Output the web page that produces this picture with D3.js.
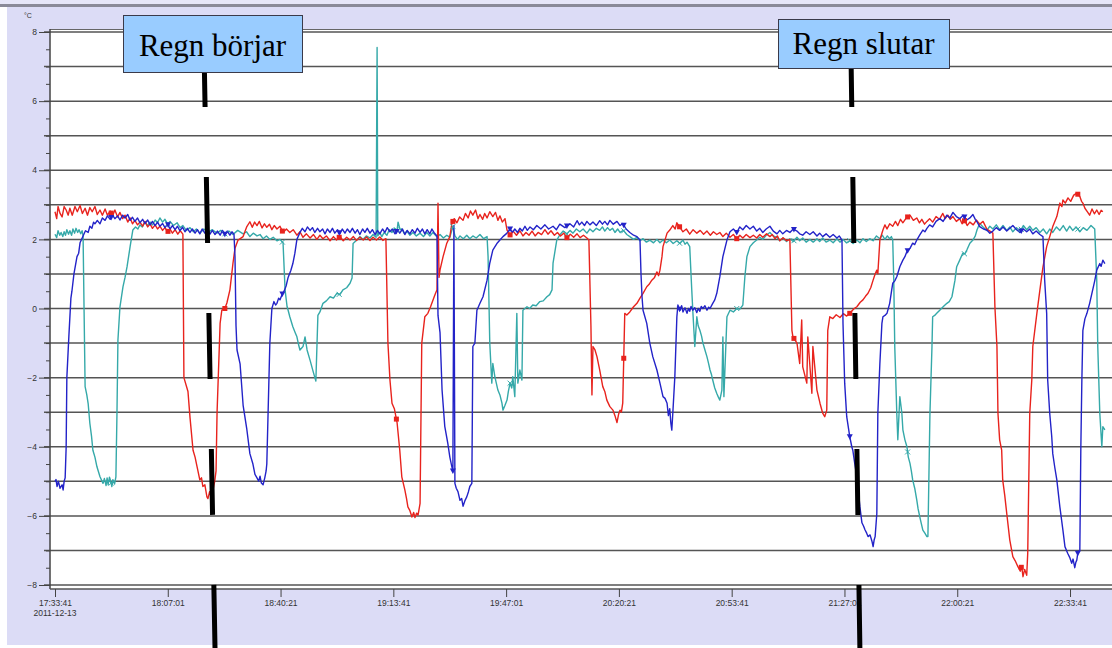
<!DOCTYPE html>
<html>
<head>
<meta charset="utf-8">
<title>Temperatur 2011-12-13</title>
<script src="https://cdnjs.cloudflare.com/ajax/libs/d3/7.8.5/d3.min.js"></script>
<style>
  body { margin: 0; background: #fff; }
  svg text { font-family: "Liberation Sans", Arial, sans-serif; }
</style>
</head>
<body>
<script>

// minutes after 17:33:41, temperature in degrees C
var red = [
[0,2.8],[0.5,2.6],[0.9,2.95],[1.5,2.75],[2.1,2.65],[2.7,2.95],[3.3,2.85],[3.9,2.7],[4.4,2.9],[5.1,2.7],[5.9,2.95],[6.6,2.8],[7.4,2.98],[8.1,2.75],[8.9,2.9],[9.6,2.7],[10.3,2.92],[11.0,2.8],[11.8,2.95],[12.5,2.72],[13.3,2.85],[14.0,2.7],[14.8,2.88],[15.5,2.7],[16.3,2.82],[17.0,2.68],[17.7,2.85],[18.5,2.65],[19.2,2.78],[20.0,2.6],[20.7,2.7],[21.5,2.5],[22.2,2.62],[22.9,2.45],[23.6,2.55],[24.4,2.42],[25.1,2.5],[25.9,2.38],[26.6,2.52],[27.4,2.36],[28.1,2.45],[28.8,2.32],[29.6,2.42],[30.3,2.3],[31.0,2.38],[31.8,2.26],[32.5,2.34],[33.3,2.22],[34.0,2.3],[34.7,2.18],[35.5,2.28],[36.3,2.15],[37.0,2.25],[37.8,2.15],
[38.1,-2.0],[39.0,-2.3],[39.3,-2.4],[39.9,-3.15],[40.8,-4.1],[41.4,-4.3],[42.0,-4.58],[42.8,-4.96],[43.3,-4.9],[43.7,-5.15],[44.3,-5.1],[44.9,-5.45],[45.2,-5.5],[45.7,-5.3],[46.1,-5.45],[46.7,-5.25],[47.2,-5.0],[47.6,-4.7],[47.9,-3.0],[48.8,-0.43],[49.3,-0.05],[50.2,0.0],[50.8,0.16],[51.7,0.54],[52.6,1.31],[53.2,1.74],[54.1,1.98],[55.6,2.08],[56.7,2.37],[57.6,2.51],
[58.3,2.35],[59.0,2.5],[59.7,2.4],[60.4,2.52],[61.2,2.33],[61.9,2.45],[62.6,2.35],[63.4,2.44],[64.1,2.28],[64.8,2.4],[65.6,2.3],[66.5,2.38],[67.4,2.2],[68.4,2.3],[69.4,2.2],[70.4,2.28],[71.5,2.12],[72.4,2.22],[73.3,2.06],[74.3,2.16],[75.4,2.04],[76.4,2.14],[77.4,2.0],[78.3,2.12],[79.2,2.02],[80.2,2.1],[81.3,1.96],[82.3,2.08],[83.2,1.98],[84.2,2.08],[85.2,1.96],[86.2,2.06],[87.2,1.98],[88.2,2.08],[89.1,1.97],[90.1,2.06],[91.1,1.98],[92.1,2.07],[93.1,1.97],[94.0,2.06],[95.0,1.98],[96.0,2.07],[96.9,1.97],[97.8,2.02],
[98.4,-1.0],[99.0,-2.07],[99.6,-2.74],[100.3,-2.9],[101.1,-3.3],[101.9,-4.1],[102.5,-4.87],[103.4,-5.25],[103.9,-5.5],[104.3,-5.74],[104.9,-5.85],[105.5,-6.03],[106.0,-5.9],[106.4,-6.05],[106.9,-5.92],[107.3,-5.98],[107.9,-5.64],[108.4,-1.0],[109.3,-0.24],[110.2,-0.14],[111.0,0.05],[111.7,0.24],[112.3,0.4],[112.9,0.54],[113.2,3.05],[113.5,0.9],[113.8,1.12],[114.7,1.5],[115.8,1.89],[116.7,2.08],[117.3,2.46],
[118.0,2.6],[118.8,2.48],[119.6,2.65],[120.6,2.55],[121.3,2.75],[122.1,2.62],[122.8,2.82],[123.5,2.7],[124.3,2.85],[125.0,2.6],[125.6,2.72],[126.4,2.58],[127.0,2.75],[127.7,2.62],[128.5,2.8],[129.4,2.66],[130.2,2.78],[130.9,2.55],[131.5,2.68],[132.2,2.5],[133.0,2.6],[133.6,2.27],[134.5,2.13],[135.4,2.24],[136.4,2.12],[137.4,2.25],[138.3,2.1],[139.2,2.2],[140.1,2.12],[141.0,2.24],[141.9,2.1],[142.8,2.2],[143.8,2.14],[144.8,2.28],[145.7,2.15],[146.6,2.25],[147.6,2.12],[148.5,2.2],[149.4,2.1],[150.4,2.18],[151.3,2.05],[152.3,2.15],[153.3,2.06],[154.3,2.16],[155.2,2.05],[156.2,2.12],[157.2,2.04],[157.8,1.98],
[158.4,-0.5],[158.7,-2.5],[159.0,-1.1],[159.6,-1.2],[160.2,-1.4],[161.0,-1.78],[161.9,-2.26],[162.5,-2.4],[163.1,-2.65],[164.0,-2.84],[164.9,-2.94],[165.5,-3.1],[166.1,-3.3],[166.6,-3.05],[167.0,-2.94],[167.4,-3.0],[167.8,-2.74],[168.4,-0.14],[169.0,-0.19],[169.9,-0.1],[171.0,0.05],[172.0,0.15],[172.9,0.3],[173.8,0.44],[174.9,0.63],[175.6,0.7],[176.4,0.82],[177.2,0.9],[177.9,1.06],[178.4,0.95],[178.8,1.11],[179.4,1.5],[179.7,1.79],[180.9,2.18],[181.7,2.27],
[182.6,2.4],[183.3,2.3],[183.8,2.48],[184.7,2.35],[185.6,2.22],[186.6,2.3],[187.6,2.15],[188.6,2.28],[189.7,2.18],[190.7,2.26],[191.7,2.15],[192.7,2.24],[193.7,2.12],[194.6,2.22],[195.6,2.14],[196.5,2.2],[197.4,2.08],[198.4,2.18],[199.5,2.06],[200.5,2.14],[201.5,2.02],[202.4,2.12],[203.3,2.04],[204.3,2.14],[205.4,2.05],[206.4,2.12],[207.4,2.04],[208.3,2.14],[209.2,2.06],[210.3,2.16],[211.3,2.08],[212.0,2.14],[212.8,2.02],[213.5,2.1],[214.2,1.96],[215.2,2.05],[216.2,1.96],[217.2,2.0],
[217.8,-0.63],[218.1,-0.82],[219.3,-1.0],[220.1,-1.59],[220.7,-0.33],[221.0,-1.69],[222.2,-2.16],[222.5,-0.82],[223.7,-2.45],[224.0,-1.1],[225.2,-2.36],[226.1,-2.74],[226.9,-3.03],[227.5,-3.13],[228.1,-2.94],[228.4,-0.63],[229.0,-0.24],[229.9,-0.29],[230.9,-0.18],[232.0,-0.26],[233.0,-0.15],[234.0,-0.22],[234.9,-0.14],[236.0,-0.02],[237.0,0.05],[238.0,0.18],[238.8,0.25],[239.6,0.36],[240.3,0.44],[241.1,0.6],[241.8,0.82],[242.4,1.0],[242.9,1.11],[243.2,1.01],[243.8,1.98],
[244.7,2.27],[245.3,2.42],[245.9,2.3],[246.7,2.45],[247.6,2.38],[248.4,2.52],[249.1,2.4],[249.9,2.58],[250.6,2.48],[251.6,2.62],[252.7,2.7],[253.7,2.55],[254.7,2.62],[255.5,2.48],[256.2,2.58],[257.0,2.44],[257.7,2.52],[258.5,2.6],[259.4,2.5],[260.4,2.66],[261.4,2.58],[262.4,2.75],[263.1,2.6],[263.9,2.7],[264.6,2.58],[265.4,2.66],[266.4,2.52],[267.4,2.6],[268.1,2.45],[268.9,2.55],[269.6,2.4],[270.4,2.5],[271.4,2.42],[272.3,2.56],[273.3,2.44],[274.3,2.52],[275.4,2.3],[276.3,2.24],[277.2,2.18],
[277.8,0.05],[278.4,-1.1],[278.7,-3.03],[279.2,-3.8],[279.8,-4.1],[280.1,-4.96],[280.7,-5.4],[281.3,-5.93],[282.2,-6.7],[283.1,-7.18],[283.8,-7.3],[284.6,-7.47],[285.3,-7.6],[285.7,-7.45],[286.1,-7.76],[286.6,-7.55],[287.2,-7.72],[287.5,-7.08],[288.1,-3.03],[288.7,-2.07],[289.0,-1.1],[290.2,-0.14],[291.1,0.54],[292.0,1.2],[293.1,1.79],[294.0,2.08],[294.9,2.37],[296.1,2.66],[297.0,3.05],
[297.6,2.95],[297.9,3.14],[298.6,3.05],[299.4,3.2],[300.2,3.1],[301.1,3.28],[302.0,3.34],[302.9,3.24],[303.4,3.1],[303.8,3.05],[304.4,2.9],[305.1,2.8],[305.8,2.7],[306.5,2.88],[307.2,2.74],[307.9,2.85],[308.6,2.72],[309.2,2.84],[309.7,2.8]
];

var blue = [
[0,-5.0],[0.3,-4.95],[0.6,-5.15],[1.0,-5.0],[1.5,-5.2],[2.1,-5.1],[2.4,-5.25],[2.7,-5.0],[3.0,-4.9],[3.3,-4.0],[3.5,-2.0],[4.1,-0.8],[4.7,0.3],[5.0,0.5],[5.6,1.0],[6.5,1.5],[7.0,1.6],[7.4,1.9],[8.3,2.1],[9.0,2.25],[9.8,2.2],[10.3,2.38],[10.9,2.32],[11.4,2.5],[11.8,2.45],
[12.5,2.55],[13.3,2.45],[14.0,2.62],[14.8,2.55],[15.5,2.68],[16.3,2.58],[17.0,2.7],[17.7,2.6],[18.5,2.68],[19.2,2.56],[20.0,2.7],[20.7,2.62],[21.5,2.72],[22.2,2.55],[22.9,2.64],[23.6,2.52],[24.4,2.62],[25.1,2.48],[25.9,2.58],[26.6,2.46],[27.4,2.56],[28.1,2.42],[28.8,2.52],[29.6,2.4],[30.3,2.5],[31.0,2.38],[31.8,2.46],[32.5,2.34],[33.3,2.44],[34.0,2.3],[34.7,2.4],[35.5,2.28],[36.2,2.38],[36.9,2.25],[37.7,2.35],[38.4,2.22],[39.1,2.32],[39.9,2.2],[40.6,2.3],[41.4,2.18],[42.1,2.28],[42.8,2.16],[43.5,2.3],[44.3,2.18],[45.0,2.28],[45.8,2.15],[46.5,2.26],[47.3,2.14],[48.0,2.24],[48.8,2.12],[49.5,2.26],[50.2,2.15],[50.9,2.24],[51.7,2.12],[52.3,2.22],[52.9,2.15],
[53.2,1.5],[53.5,-0.5],[53.8,-1.2],[54.7,-1.6],[55.6,-2.8],[56.7,-3.5],[57.6,-4.2],[58.5,-4.5],[59.1,-4.8],[59.7,-4.9],[60.2,-5.0],[60.6,-4.85],[61.0,-5.05],[61.5,-5.1],[62.0,-4.9],[62.4,-4.7],[62.6,-4.5],[63.5,-1.0],[64.1,0.0],[64.7,0.2],[65.2,0.1],[65.6,0.15],[66.1,0.3],[66.5,0.25],[67.1,0.4],[67.7,0.5],[68.3,0.65],[68.9,0.9],[69.7,1.1],[70.3,1.3],[70.9,1.6],[71.5,2.0],[72.4,2.2],
[73.1,2.32],[73.9,2.22],[74.6,2.36],[75.4,2.26],[76.1,2.34],[76.8,2.2],[77.6,2.32],[78.3,2.22],[79.1,2.3],[79.8,2.16],[80.5,2.3],[81.3,2.2],[82.0,2.32],[82.7,2.18],[83.5,2.28],[84.2,2.16],[84.9,2.3],[85.7,2.18],[86.4,2.3],[87.2,2.2],[87.9,2.32],[88.7,2.18],[89.4,2.28],[90.1,2.14],[90.9,2.3],[91.6,2.2],[92.3,2.32],[93.1,2.18],[93.8,2.28],[94.6,2.14],[95.3,2.26],[96.0,2.16],[96.8,2.3],[97.5,2.2],[98.2,2.34],[99.0,2.22],[99.7,2.3],[100.5,2.16],[101.2,2.28],[101.9,2.18],[102.7,2.3],[103.4,2.14],[104.1,2.26],[104.9,2.16],[105.6,2.28],[106.4,2.18],[107.1,2.32],[107.9,2.2],[108.6,2.3],[109.3,2.16],[110.0,2.28],[110.8,2.16],[111.4,2.3],[112.0,2.2],[112.9,2.1],
[113.2,-0.2],[113.8,-0.7],[114.4,-2.36],[115.2,-3.41],[116.1,-3.9],[116.7,-4.3],[117.3,-4.58],[117.6,-4.7],[117.9,2.4],[118.2,-5.06],[118.6,-5.2],[119.1,-5.3],[119.7,-5.55],[120.2,-5.5],[120.6,-5.72],[121.2,-5.55],[121.7,-5.45],[122.2,-5.3],[122.6,-5.15],[123.2,-5.06],[123.5,-1.1],[124.1,-1.0],[124.7,-0.05],[125.6,0.15],[126.5,0.34],[127.7,0.82],[128.5,1.31],[129.4,1.69],[130.6,1.88],[131.5,1.98],[132.4,2.08],[133.6,2.18],[134.5,2.3],
[135.2,2.2],[135.9,2.3],[136.7,2.2],[137.4,2.32],[138.1,2.24],[138.9,2.38],[139.6,2.26],[140.4,2.36],[141.4,2.28],[142.4,2.4],[143.6,2.3],[144.8,2.42],[145.9,2.3],[147.2,2.38],[148.2,2.28],[149.2,2.44],[150.7,2.34],[152.2,2.45],[153.3,2.36],[154.3,2.54],[155.0,2.42],[155.7,2.5],[156.5,2.4],[157.2,2.52],[158.1,2.42],[159.0,2.5],[160.0,2.4],[161.0,2.54],[161.8,2.44],[162.5,2.52],[163.3,2.42],[164.0,2.55],[165.0,2.44],[166.1,2.52],[167.0,2.4],[167.8,2.46],[168.8,2.3],[169.9,2.2],[171.0,2.12],[172.0,2.08],[172.9,1.98],
[173.2,1.0],[173.5,0.34],[173.8,-0.05],[174.9,-0.43],[175.8,-1.0],[176.7,-1.4],[177.9,-1.78],[178.8,-2.16],[179.7,-2.55],[180.3,-2.6],[180.9,-2.74],[181.3,-3.1],[181.7,-2.9],[182.0,-3.3],[182.3,-3.52],[182.6,-3.03],[183.2,-1.97],[183.8,-0.24],[184.1,0.1],[184.7,-0.05],[185.2,0.08],[185.6,-0.1],[186.2,0.02],[186.8,-0.14],[187.2,0.0],[187.6,-0.08],[188.0,0.06],[188.5,-0.05],[189.1,0.02],[189.7,-0.12],[190.1,0.0],[190.6,-0.08],[191.0,0.06],[191.5,0.0],[192.1,0.08],[192.7,-0.05],[193.2,0.04],[193.6,0.0],[194.4,0.15],[195.0,0.25],[195.6,0.44],[196.5,0.92],[197.4,1.5],[198.6,1.98],[199.5,2.22],
[200.5,2.3],[201.5,2.2],[202.4,2.36],[203.3,2.28],[204.3,2.4],[205.4,2.3],[206.4,2.38],[207.4,2.24],[208.3,2.32],[209.2,2.2],[210.2,2.3],[211.3,2.38],[212.3,2.24],[213.4,2.16],[214.2,2.26],[215.1,2.16],[216.2,2.26],[217.2,2.2],[218.2,2.3],[219.3,2.24],[220.1,2.16],[221.0,2.12],[222.0,2.22],[223.1,2.14],[224.1,2.22],[225.2,2.1],[226.0,2.18],[226.9,2.08],[227.9,2.16],[229.0,2.06],[230.0,2.14],[231.1,2.04],[231.8,2.1],[232.6,1.98],
[232.9,-0.43],[233.4,-2.16],[234.0,-3.13],[234.9,-3.71],[235.5,-4.0],[235.8,-4.1],[236.4,-4.5],[237.0,-4.87],[237.9,-5.74],[238.5,-6.2],[239.0,-6.3],[239.4,-6.4],[239.9,-6.5],[240.3,-6.6],[240.9,-6.55],[241.5,-6.75],[241.8,-6.89],[242.1,-6.7],[242.4,-6.6],[242.9,-5.93],[243.2,-3.03],[243.8,-1.59],[244.4,-0.43],[244.7,-0.24],[245.3,-0.2],[245.9,-0.14],[246.7,0.15],[247.3,0.54],[247.6,0.73],[248.2,0.8],[248.8,0.92],[249.7,1.21],[250.6,1.4],[251.2,1.5],[251.8,1.65],[252.7,1.74],[253.5,1.89],[254.1,1.85],[254.7,1.98],[255.6,2.13],[256.5,2.27],[257.1,2.22],[257.7,2.32],
[258.5,2.42],[259.4,2.36],[260.4,2.52],[261.5,2.6],[262.5,2.52],[263.6,2.7],[264.5,2.62],[265.4,2.78],[266.4,2.66],[267.4,2.6],[268.4,2.7],[269.5,2.56],[270.4,2.62],[271.3,2.72],[272.0,2.58],[272.5,2.51],[273.3,2.37],[274.4,2.3],[275.4,2.27],[276.3,2.18],[277.2,2.24],[278.2,2.34],[279.2,2.26],[280.2,2.36],[281.3,2.24],[282.2,2.32],[283.1,2.4],[284.2,2.28],[285.2,2.2],[286.2,2.3],[287.2,2.22],[288.1,2.3],[289.0,2.16],[290.0,2.24],[291.1,2.14],[292.0,2.08],
[292.5,0.83],[293.1,-0.14],[293.4,-2.07],[294.0,-3.03],[294.6,-3.71],[294.9,-4.2],[295.5,-4.6],[296.1,-4.96],[297.0,-5.74],[297.9,-6.41],[298.5,-6.89],[299.3,-7.08],[299.9,-7.2],[300.5,-7.37],[300.9,-7.25],[301.4,-7.5],[301.7,-7.35],[302.0,-7.28],[302.3,-7.08],[302.9,-6.99],[303.2,-4.0],[303.5,-2.07],[303.8,-0.63],[304.4,-0.3],[305.0,-0.14],[305.8,0.15],[306.7,0.54],[307.3,0.8],[307.9,1.11],[308.8,1.3],[309.2,1.22],[309.7,1.4],[310.3,1.3]
];

var cyan = [
[0,2.15],[0.5,2.05],[0.9,2.25],[1.4,2.12],[1.8,2.2],[2.3,2.08],[2.7,2.22],[3.1,2.12],[3.5,2.28],[4.0,2.15],[4.4,2.25],[4.9,2.12],[5.3,2.3],[5.8,2.18],[6.2,2.32],[6.7,2.2],[7.1,2.28],[7.6,2.16],[8.0,2.25],[8.3,2.1],
[8.6,-0.1],[8.9,-2.26],[9.4,-2.5],[9.8,-2.75],[10.3,-3.32],[10.8,-3.7],[11.2,-4.1],[11.8,-4.3],[12.4,-4.58],[13.3,-4.87],[14.2,-5.06],[14.6,-4.92],[15.1,-5.12],[15.4,-4.9],[15.7,-5.1],[16.1,-4.88],[16.5,-5.0],[16.8,-5.15],[17.1,-4.95],[17.6,-5.08],[18.0,-4.87],[18.3,-3.13],[18.6,-0.91],[19.2,0.05],[20.1,0.63],[20.7,0.9],[21.3,1.21],[22.2,1.79],[23.0,2.27],
[23.8,2.36],[24.5,2.3],[25.1,2.42],[25.8,2.36],[26.6,2.5],[27.3,2.4],[28.1,2.5],[28.8,2.42],[29.6,2.56],[30.3,2.48],[31.0,2.62],[31.8,2.5],[32.5,2.58],[33.3,2.44],[34.0,2.52],[35.0,2.4],[36.1,2.48],[37.0,2.34],[37.8,2.4],[38.8,2.26],[39.9,2.34],[40.9,2.22],[41.8,2.3],[42.8,2.18],[44.0,2.3],[45.2,2.2],[46.5,2.28],[47.9,2.18],[49.0,2.26],[50.2,2.16],[51.4,2.24],[52.6,2.14],[54.0,2.26],[55.6,2.16],[56.6,2.22],[57.6,2.08],[58.6,2.18],[59.7,2.1],[60.6,2.14],[61.5,2.02],[62.5,2.1],[63.5,2.0],[64.5,2.06],[65.6,1.96],[66.5,2.0],[67.4,1.9],
[68.0,0.54],[68.6,0.05],[68.9,-0.05],[69.4,-0.24],[70.3,-0.53],[71.0,-0.7],[71.5,-0.82],[72.0,-1.05],[72.4,-1.2],[73.3,-1.1],[73.9,-0.82],[74.5,-1.2],[75.4,-1.5],[76.2,-1.79],[77.1,-2.1],[77.7,-0.2],[78.3,-0.1],[79.2,0.15],[80.2,0.22],[81.3,0.34],[82.3,0.3],[83.3,0.44],[84.2,0.4],[85.1,0.54],[86.2,0.6],[87.2,0.73],[87.8,0.88],[88.1,1.88],[89.2,1.98],
[90.1,2.08],[91.0,2.0],[92.0,2.1],[93.1,2.04],[94.0,2.14],[94.9,2.06],[95.2,7.55],[95.4,2.1],[96.0,2.2],[96.6,2.08],[97.3,2.2],[98.1,2.12],[98.8,2.28],[99.6,2.2],[100.3,2.32],[101.1,2.26],[101.4,2.5],[102.0,2.28],[102.5,2.3],[103.3,2.16],[104.0,2.24],[104.9,2.12],[105.8,2.2],[106.8,2.1],[107.9,2.18],[108.9,2.08],[109.9,2.2],[110.8,2.1],[111.7,2.2],[112.8,2.08],[113.8,2.14],[114.8,2.04],[115.8,2.12],[116.7,2.06],[117.6,2.37],[118.2,2.1],[119.0,2.0],[119.7,2.1],[120.7,2.02],[121.7,2.12],[122.6,2.02],[123.5,2.1],[124.5,2.04],[125.6,2.14],[126.7,2.02],[127.7,2.08],
[128.0,1.5],[128.5,-1.0],[129.1,-2.16],[129.4,-1.59],[130.0,-1.97],[130.9,-2.36],[131.5,-2.5],[132.1,-2.74],[132.4,-2.94],[133.0,-2.8],[133.6,-2.65],[134.0,-2.4],[134.5,-2.16],[135.0,-2.3],[135.3,-1.97],[135.9,-2.55],[136.5,-0.14],[136.8,-2.16],[137.4,-1.78],[138.0,-2.07],[138.3,-0.05],[139.5,0.05],[140.3,0.0],[141.2,0.1],[142.2,0.08],[143.3,0.2],[144.3,0.22],[145.4,0.34],[146.2,0.4],[146.9,0.54],[147.2,1.31],[148.3,1.98],[149.2,2.13],
[150.2,2.24],[151.3,2.16],[152.2,2.26],[153.1,2.18],[154.1,2.3],[155.1,2.22],[156.1,2.3],[157.2,2.18],[158.1,2.3],[159.0,2.22],[160.0,2.32],[161.0,2.26],[161.8,2.36],[162.5,2.24],[163.3,2.34],[164.0,2.26],[164.8,2.32],[165.5,2.2],[166.3,2.3],[167.0,2.2],[168.0,2.26],[169.0,2.14],[169.9,2.08],[171.0,2.0],[172.0,2.06],[172.9,1.96],[173.8,2.02],[174.8,1.92],[175.8,1.98],[176.9,1.9],[177.9,2.0],[178.8,1.9],[179.7,1.98],[180.7,1.9],[181.7,1.98],[182.7,1.88],[183.8,1.96],[184.7,1.88],[185.6,1.98],[186.2,1.86],[186.8,1.92],[187.6,1.79],
[188.2,0.54],[188.5,-0.05],[189.1,-1.1],[189.7,-0.24],[190.1,-0.5],[190.6,-0.63],[191.1,-0.8],[191.5,-1.0],[192.1,-1.2],[192.7,-1.4],[193.2,-1.6],[193.6,-1.78],[194.0,-1.9],[194.4,-2.07],[195.0,-2.3],[195.6,-2.46],[196.0,-2.55],[196.5,-2.65],[197.1,-2.36],[197.4,-0.82],[197.7,-2.55],[198.6,-0.24],[199.5,-0.05],[200.5,-0.1],[201.5,0.0],[202.4,-0.02],[203.3,0.1],[203.9,0.92],[204.5,1.5],[205.4,1.79],[206.4,1.9],[207.4,1.98],[208.3,2.06],
[209.2,2.0],[210.2,2.12],[211.3,2.2],[212.3,2.1],[213.4,2.06],[214.2,1.96],[215.1,2.04],[216.2,1.94],[217.2,2.02],[218.2,1.94],[219.3,2.06],[220.1,1.96],[221.0,2.04],[222.0,1.92],[223.1,2.0],[224.1,1.92],[225.2,2.02],[226.0,1.94],[226.9,2.04],[227.9,1.92],[229.0,1.98],[230.0,1.9],[231.1,2.02],[232.0,1.92],[232.9,2.0],[233.9,1.9],[234.9,1.96],[235.9,1.88],[237.0,1.98],[237.9,1.9],[238.8,2.02],[239.8,1.94],[240.8,2.02],[241.8,1.96],[242.8,2.1],[243.8,2.02],[244.5,2.12],[245.3,2.0],[246.0,2.1],[246.7,2.02],[247.2,2.08],[247.6,1.98],
[247.9,0.83],[248.2,-1.1],[248.8,-3.03],[249.1,-3.8],[249.7,-2.55],[250.3,-3.03],[250.6,-3.51],[251.2,-3.8],[251.8,-4.0],[252.2,-4.3],[252.7,-4.48],[253.1,-4.7],[253.5,-4.96],[254.1,-5.2],[254.7,-5.54],[255.1,-5.8],[255.6,-6.03],[256.0,-6.2],[256.5,-6.41],[257.1,-6.5],[257.7,-6.6],[258.0,-6.6],[258.6,-3.03],[259.2,-1.1],[259.4,-0.24],[260.0,-0.2],[260.6,-0.14],[261.5,-0.05],[262.5,0.05],[263.6,0.15],[264.3,0.2],[265.1,0.34],[266.0,0.82],[266.5,1.21],[267.4,1.4],[268.3,1.6],[268.9,1.58],[269.5,1.69],[270.4,1.89],[271.3,1.98],[272.0,2.1],[272.5,2.27],[273.3,2.46],
[274.3,2.36],[275.4,2.26],[276.3,2.38],[277.2,2.3],[278.2,2.42],[279.2,2.28],[280.2,2.4],[281.3,2.26],[282.2,2.36],[283.1,2.22],[284.2,2.34],[285.2,2.22],[286.2,2.4],[287.2,2.28],[288.1,2.38],[289.0,2.26],[290.0,2.34],[291.1,2.2],[292.1,2.3],[293.1,2.16],[294.0,2.3],[294.9,2.2],[296.0,2.36],[297.0,2.26],[298.0,2.4],[299.0,2.24],[299.9,2.38],[300.8,2.26],[301.8,2.36],[302.9,2.22],[303.9,2.34],[305.0,2.26],[306.2,2.4],[307.3,2.3],
[307.9,0.83],[308.2,-1.1],[308.8,-3.03],[309.4,-4.0],[309.7,-3.42],[310.3,-3.51]
];

// sample markers drawn by the logger (minutes)
var markerMin = [16.6, 33.4, 50.2, 67.2, 84.0, 100.9, 117.6, 134.5, 151.3, 168.1, 184.6, 201.5, 218.4, 234.9, 252.0, 268.8, 285.6, 302.3];

// x ticks every 2000 s from the start
var xTickSec = [0, 2000, 4000, 6000, 8000, 10000, 12000, 14000, 16000, 18000];
var yLabels = [8, 6, 4, 2, 0, -2, -4, -6, -8];
var yGrid = [8, 7, 6, 5, 4, 3, 2, 1, 0, -1, -2, -3, -4, -5, -6, -7, -8];
var yMinor = [7.5, 6.5, 5.5, 4.5, 3.5, 2.5, 1.5, 0.5, -0.5, -1.5, -2.5, -3.5, -4.5, -5.5, -6.5, -7.5,
              7, 5, 3, 1, -1, -3, -5, -7];

// rain annotations: minutes at top and bottom of the slanted bar
var rainStart = [44.0, 47.3];
var rainEnd = [235.2, 237.9];

var width = 1112, height = 648;
var t0 = new Date(2011, 11, 13, 17, 33, 41);
function tm(m) { return new Date(t0.getTime() + m * 60000); }

var x = d3.scaleTime().domain([t0, tm(333.3333)]).range([55, 1182.8]);
var y = d3.scaleLinear().domain([-8, 8]).range([585, 32]);

var svg = d3.select("body").append("svg")
    .attr("width", width)
    .attr("height", height);

// background frame
svg.append("rect").attr("x", 0).attr("y", 0).attr("width", width).attr("height", height).attr("fill", "#fff");
svg.append("rect").attr("x", 7).attr("y", 0).attr("width", width - 7).attr("height", 645).attr("fill", "#dcdcf6");
svg.append("rect").attr("x", 0).attr("y", 0).attr("width", width).attr("height", 4).attr("fill", "#e6e6f8");
svg.append("rect").attr("x", 0).attr("y", 4).attr("width", width).attr("height", 3).attr("fill", "#8a8a98");
svg.append("rect").attr("x", 50).attr("y", 29).attr("width", width - 50).attr("height", 560).attr("fill", "#fff");

// horizontal grid
svg.append("g").selectAll("line")
  .data(yGrid)
  .enter().append("line")
    .attr("x1", 44).attr("x2", width)
    .attr("y1", function(d) { return y(d); })
    .attr("y2", function(d) { return y(d); })
    .attr("stroke", "#555")
    .attr("stroke-width", 1.5);

// frame top
svg.append("line").attr("x1", 50).attr("x2", width).attr("y1", 29.5).attr("y2", 29.5)
  .attr("stroke", "#666").attr("stroke-width", 1.2);

// y axis
var yAxis = svg.append("g")
    .attr("transform", "translate(50,0)")
    .call(d3.axisLeft(y).tickValues(yLabels).tickSize(11).tickSizeOuter(0).tickFormat(d3.format("d")));
var yMinorAxis = svg.append("g")
    .attr("transform", "translate(50,0)")
    .call(d3.axisLeft(y).tickValues(yMinor).tickSize(4).tickSizeOuter(0).tickFormat(""));
[yAxis, yMinorAxis].forEach(function(g) {
  g.select(".domain").attr("stroke", "#444").attr("d", "M0,29V589");
  g.selectAll(".tick line").attr("stroke", "#444");
});
yAxis.selectAll("text").attr("x", -13).style("font-size", "8.5px")
  .style("font-family", "Liberation Sans, Arial, sans-serif").style("fill", "#333");

svg.append("text").attr("x", 24).attr("y", 18).style("font-size", "7px").style("fill", "#333").text("°C");

// x axis
var xAxis = svg.append("g")
    .attr("transform", "translate(0,589)")
    .call(d3.axisBottom(x)
      .tickValues(xTickSec.map(function(s) { return new Date(t0.getTime() + s * 1000); }))
      .tickSize(8).tickSizeOuter(0)
      .tickFormat(d3.timeFormat("%H:%M:%S")));
xAxis.select(".domain").attr("stroke", "#555").attr("stroke-width", 1.5).attr("d", "M50,0H" + width);
xAxis.selectAll(".tick line").attr("stroke", "#444");
xAxis.selectAll("text").attr("y", 11).style("font-size", "8.5px")
  .style("font-family", "Liberation Sans, Arial, sans-serif").style("fill", "#333");
xAxis.append("text")
  .attr("x", x(t0)).attr("y", 27)
  .attr("text-anchor", "middle")
  .style("font-size", "8.5px")
  .style("fill", "#333")
  .text(d3.timeFormat("%Y-%m-%d")(t0));

// series
var line = d3.line()
  .x(function(d) { return x(tm(d[0])); })
  .y(function(d) { return y(d[1]); });

var plot = svg.append("g");
var series = [
  { data: cyan, color: "#35a9a9" },
  { data: red,  color: "#e8231d" },
  { data: blue, color: "#2323c8" }
];
series.forEach(function(s) {
  plot.append("path")
    .datum(s.data)
    .attr("fill", "none")
    .attr("stroke", s.color)
    .attr("stroke-width", 1.4)
    .attr("stroke-linejoin", "round")
    .attr("d", line);
});

// marker value on the line at a given minute
var bis = d3.bisector(function(d) { return d[0]; }).left;
function valueAt(data, m) {
  var i = bis(data, m);
  if (i <= 0) return data[0][1];
  if (i >= data.length) return data[data.length - 1][1];
  var a = data[i - 1], b = data[i];
  return a[1] + (b[1] - a[1]) * (m - a[0]) / (b[0] - a[0]);
}
markerMin.forEach(function(m) {
  var px = x(tm(m));
  var ry = y(valueAt(red, m)), by = y(valueAt(blue, m)), cy = y(valueAt(cyan, m));
  plot.append("path")
    .attr("d", "M" + (px - 2.5) + "," + (cy - 2.5) + "L" + (px + 2.5) + "," + (cy + 2.5) + "M" + (px + 2.5) + "," + (cy - 2.5) + "L" + (px - 2.5) + "," + (cy + 2.5))
    .attr("stroke", "#35a9a9").attr("stroke-width", 1);
  plot.append("rect")
    .attr("x", px - 2.5).attr("y", ry - 2.5).attr("width", 5).attr("height", 5)
    .attr("fill", "#e8231d");
  plot.append("path")
    .attr("d", "M" + (px - 3) + "," + (by - 2.5) + "L" + (px + 3) + "," + (by - 2.5) + "L" + px + "," + (by + 3) + "Z")
    .attr("fill", "#2323c8");
});

// rain bars
[rainStart, rainEnd].forEach(function(r) {
  svg.append("line")
    .attr("x1", x(tm(r[0]))).attr("y1", 41)
    .attr("x2", x(tm(r[1]))).attr("y2", 650)
    .attr("stroke", "#000")
    .attr("stroke-width", 5)
    .attr("stroke-dasharray", "66 70");
});

// label boxes
var boxes = [
  { text: "Regn börjar", x0: 123, x1: 302, y0: 15, y1: 72, base: 56 },
  { text: "Regn slutar", x0: 778, x1: 949, y0: 19, y1: 68, base: 54 }
];
boxes.forEach(function(b) {
  svg.append("rect")
    .attr("x", b.x0 + 0.5).attr("y", b.y0 + 0.5)
    .attr("width", b.x1 - b.x0).attr("height", b.y1 - b.y0)
    .attr("fill", "#99ccff")
    .attr("stroke", "#3a3a4a")
    .attr("stroke-width", 1);
  svg.append("text")
    .attr("x", (b.x0 + b.x1) / 2).attr("y", b.base)
    .attr("text-anchor", "middle")
    .style("font-family", "Liberation Serif, 'Times New Roman', serif")
    .style("font-size", "31px")
    .style("fill", "#000")
    .text(b.text);
});

</script>
</body>
</html>
